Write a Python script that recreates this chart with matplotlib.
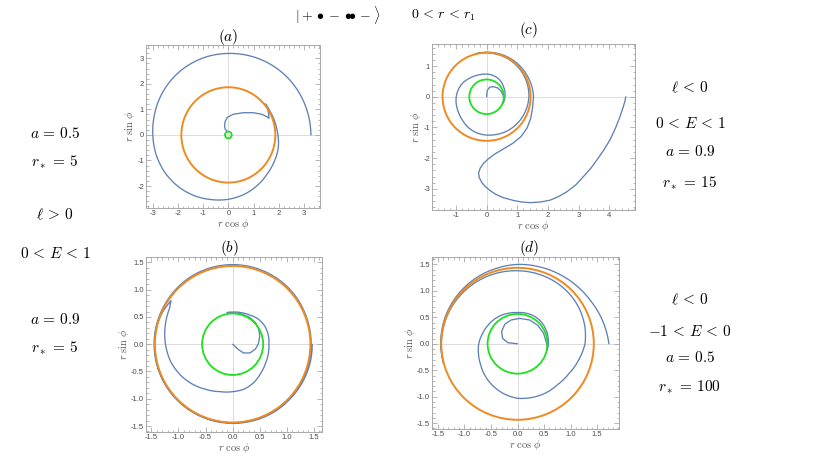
import numpy as np
import matplotlib
matplotlib.use('Agg')
import matplotlib.pyplot as plt
from matplotlib.patches import Circle, PathPatch
from matplotlib.path import Path
from matplotlib.projections.polar import PolarTransform
from matplotlib.ticker import MultipleLocator, FormatStrFormatter

plt.rcParams['mathtext.fontset'] = 'cm'
plt.rcParams['font.family'] = ['Liberation Sans', 'DejaVu Sans']

# ---------------- data ----------------
# horizon circles (outer orange, inner green)
a_circles = [1.866, 0.134]
b_circles = [1.436, 0.564]
c_circles = [1.436, 0.564]
d_circles = [1.436, 0.564]

# panel (a)
a_hook_x = [-0.04, -0.12, -0.15, -0.13, -0.04, 0.20, 0.60, 0.99, 1.32, 1.52, 1.61, 1.60, 1.55, 1.48]
a_hook_y = [0.13, 0.22, 0.33, 0.52, 0.69, 0.81, 0.87, 0.87, 0.81, 0.72, 0.65, 0.85, 1.04, 1.21]
a_loop_phi = [39, 30, 20, 10, 0, -15, -30, -45, -60, -75, -90, -105, -120, -135, -150, -165,
              -180, -195, -210, -225, -240, -255, -270, -285, -300, -315, -330, -345, -360]
a_loop_r = [1.91, 1.90, 1.91, 1.93, 1.97, 2.05, 2.10, 2.17, 2.29, 2.41, 2.52, 2.62, 2.74, 2.84, 2.92, 2.97,
            3.00, 3.04, 3.09, 3.13, 3.16, 3.18, 3.19, 3.21, 3.23, 3.25, 3.26, 3.27, 3.28]

# panel (b)
b_hook_x = [0.0, 0.11, 0.20, 0.32, 0.42, 0.48, 0.50, 0.48, 0.42, 0.30, 0.15, 0.0, -0.10]
b_hook_y = [0.0, -0.10, -0.16, -0.16, -0.09, 0.02, 0.15, 0.28, 0.40, 0.50, 0.56, 0.58, 0.58]
b_loop_phi = [100, 90, 75, 60, 45, 30, 15, 0, -15, -30, -45, -60, -75, -90, -105, -120, -135, -150,
              -165, -180, -195, -210, -215, -205, -194,
              -180, -165, -150, -135, -120, -105, -90, -75, -60, -45, -30, -15, 0,
              15, 30, 45, 60, 75, 90, 105, 120, 135, 150, 165, 180, 195, 210, 225, 240, 255, 270,
              285, 300, 315, 330, 345, 360]
b_loop_r = [0.59, 0.59, 0.60, 0.62, 0.66, 0.68, 0.68, 0.67, 0.68, 0.70, 0.74, 0.80, 0.85, 0.87, 0.90, 0.96, 1.04, 1.12,
            1.19, 1.24, 1.29, 1.34, 1.39, 1.42, 1.44,
            1.44, 1.44, 1.44, 1.44, 1.44, 1.44, 1.44, 1.44, 1.44, 1.44, 1.445, 1.445, 1.45,
            1.45, 1.455, 1.46, 1.46, 1.46, 1.46, 1.46, 1.46, 1.455, 1.45, 1.45, 1.45, 1.45, 1.45, 1.45, 1.45, 1.45, 1.45,
            1.455, 1.46, 1.46, 1.465, 1.47, 1.47]

# panel (c)
c_hook_x = [0.0, 0.02, 0.10, 0.22, 0.36, 0.47, 0.54, 0.56, 0.545]
c_hook_y = [0.0, 0.20, 0.31, 0.33, 0.29, 0.19, 0.05, -0.10, -0.20]
c_loop_phi = [-20, 0, 15, 30, 45, 60, 75, 90, 105, 120, 135, 150, 165, 180, 195, 210, 225, 240, 255, 270,
              285, 300, 315, 330, 345, 360, 375, 390, 405, 420, 435, 450, 465,
              450, 435, 420, 405, 390, 375, 360]
c_loop_r = [0.58, 0.60, 0.62, 0.64, 0.68, 0.71, 0.73, 0.74, 0.75, 0.78, 0.83, 0.90, 0.95, 0.99, 1.02, 1.05, 1.10, 1.17, 1.22, 1.25,
            1.27, 1.30, 1.32, 1.34, 1.36, 1.38, 1.39, 1.40, 1.41, 1.42, 1.43, 1.44, 1.445,
            1.45, 1.46, 1.47, 1.48, 1.49, 1.51, 1.53]
c_tail_x = [1.53, 1.50, 1.44, 1.32, 1.12, 0.85, 0.55, 0.28, 0.06, -0.10, -0.21, -0.26, -0.24, -0.16, -0.04, 0.12, 0.28,
            0.55, 0.88, 1.15, 1.42, 1.75, 2.07, 2.35, 2.61, 2.90, 3.15, 3.40, 3.59, 3.82, 4.02, 4.20, 4.35, 4.45,
            4.51, 4.54]
c_tail_y = [0.0, -0.35, -0.70, -1.02, -1.30, -1.52, -1.70, -1.86, -2.02, -2.17, -2.33, -2.48, -2.63, -2.79, -2.93, -3.06,
            -3.17, -3.29, -3.38, -3.43, -3.45, -3.43, -3.37, -3.25, -3.10, -2.88, -2.61, -2.33, -2.07, -1.74, -1.41,
            -1.03, -0.65, -0.35, -0.15, 0.0]

# panel (d)
d_hook_x = [0.0, -0.18, -0.28, -0.30, -0.24, -0.12, 0.04, 0.23, 0.38, 0.49, 0.55, 0.56]
d_hook_y = [0.0, 0.02, 0.10, 0.23, 0.37, 0.45, 0.48, 0.45, 0.35, 0.20, 0.0, -0.12]
d_loop_phi = [-12, 0, 15, 30, 45, 60, 75, 90, 105, 120, 135, 150, 165, 180, 195, 210, 225, 240, 255, 270,
              285, 300, 315, 330, 345, 360, 375, 390, 405, 420, 435, 450, 465, 480, 495, 510, 525, 540, 555,
              540, 525, 510, 495, 480, 465, 450, 435, 420, 405, 390, 375, 360]
d_loop_r = [0.57, 0.58, 0.59, 0.60, 0.61, 0.61, 0.60, 0.59, 0.60, 0.62, 0.64, 0.66, 0.69, 0.73, 0.76, 0.80, 0.86, 0.92,
            0.98, 1.03, 1.05, 1.07, 1.08, 1.12, 1.19, 1.27, 1.31, 1.34, 1.36, 1.37, 1.375, 1.38, 1.39, 1.40, 1.41,
            1.42, 1.43, 1.435, 1.44,
            1.445, 1.45, 1.455, 1.46, 1.47, 1.48, 1.50, 1.51, 1.53, 1.56, 1.60, 1.66, 1.72]

titles = ['$(a)$', '$(b)$', '$(c)$', '$(d)$']

left_texts = [r'$a\,=\,0.5$', r'$r_*\,=\,5$', r'$\ell\,>\,0$', r'$0\,<\,E\,<\,1$', r'$a\,=\,0.9$', r'$r_*\,=\,5$']
right_top_texts = [r'$\ell\,<\,0$', r'$0\,<\,E\,<\,1$', r'$a\,=\,0.9$', r'$r_*\,=\,15$']
right_bot_texts = [r'$\ell\,<\,0$', r'$-1\,<\,E\,<\,0$', r'$a\,=\,0.5$', r'$r_*\,=\,100$']
header_texts = [r'$|+\bullet-\bullet\!\!\!\!\bullet-\rangle$', r'$0\,<\,r\,<\,r_1$']

# ---------------- styling ----------------
BLUE = '#5E81B5'
ORANGE = '#EE8A22'
GREEN = '#1EE01E'

W, H = 822, 463
fig = plt.figure(figsize=(W / 100, H / 100), dpi=100)

try:
    POLAR = PolarTransform(apply_theta_transforms=False)
except TypeError:
    POLAR = PolarTransform()


def add_ax(l, r, t, b):
    return fig.add_axes([l / W, 1 - b / H, (r - l) / W, (b - t) / H])


def panel(ax, hook_x, hook_y, phi, r, tail_x, tail_y, circles, xlim, ylim, major, minor, fmt):
    # straight-read (x, y) parts
    ax.plot(hook_x, hook_y, color=BLUE, lw=0.95, zorder=3, solid_joinstyle='round',
            solid_capstyle='round')
    if len(tail_x):
        ax.plot(tail_x, tail_y, color=BLUE, lw=0.95, zorder=3, solid_joinstyle='round',
                solid_capstyle='round')
    # (phi, r) part, drawn through matplotlib's polar transform
    verts = np.column_stack([np.radians(phi), r])
    path = Path(verts, _interpolation_steps=24)
    ax.add_patch(PathPatch(path, fill=False, ec=BLUE, lw=0.95, zorder=3, joinstyle='round',
                           capstyle='round', transform=POLAR + ax.transData))
    ax.add_patch(Circle((0, 0), circles[0], fill=False, ec=ORANGE, lw=1.4, zorder=4))
    ax.add_patch(Circle((0, 0), circles[1], fill=False, ec=GREEN, lw=1.3, zorder=5))
    ax.axhline(0, color='#dcdcdc', lw=0.7, zorder=1)
    ax.axvline(0, color='#dcdcdc', lw=0.7, zorder=1)
    ax.set_xlim(xlim)
    ax.set_ylim(ylim)
    for axis in (ax.xaxis, ax.yaxis):
        axis.set_major_locator(MultipleLocator(major))
        axis.set_minor_locator(MultipleLocator(minor))
        axis.set_major_formatter(FormatStrFormatter(fmt))
    ax.tick_params(which='both', direction='in', top=True, right=True,
                   color='#9a9a9a', labelcolor='#4a4a4a', labelsize=5.5, width=0.5, pad=1.5)
    ax.tick_params(which='major', length=3.5)
    ax.tick_params(which='minor', length=1.8)
    for s in ax.spines.values():
        s.set_color('#a8a8a8')
        s.set_linewidth(0.7)
    ax.set_xlabel(r'$r\ \cos\,\phi$', fontsize=7.5, color='#555555', labelpad=0)
    ax.set_ylabel(r'$r\ \sin\,\phi$', fontsize=7.5, color='#555555', labelpad=0)


ax_a = add_ax(146, 320, 45, 208)
panel(ax_a, a_hook_x, a_hook_y, a_loop_phi, a_loop_r, [], [], a_circles,
      (-3.27, 3.64), (-2.86, 3.52), 1, 0.2, '%d')

ax_c = add_ax(432, 635, 44, 210)
panel(ax_c, c_hook_x, c_hook_y, c_loop_phi, c_loop_r, c_tail_x, c_tail_y, c_circles,
      (-1.78, 4.84), (-3.69, 1.72), 1, 0.2, '%d')

ax_b = add_ax(146, 322, 257, 432)
panel(ax_b, b_hook_x, b_hook_y, b_loop_phi, b_loop_r, [], [], b_circles,
      (-1.60, 1.65), (-1.61, 1.60), 0.5, 0.1, '%.1f')

ax_d = add_ax(432, 619, 257, 429)
panel(ax_d, d_hook_x, d_hook_y, d_loop_phi, d_loop_r, [], [], d_circles,
      (-1.61, 1.91), (-1.61, 1.64), 0.5, 0.1, '%.1f')


def ftext(x, y, s, size=11):
    fig.text(x / W, 1 - y / H, s, ha='center', va='center', fontsize=size, color='black')


ftext(228, 37, titles[0], 11)
ftext(229, 248, titles[1], 11)
ftext(529, 30, titles[2], 11)
ftext(529, 248, titles[3], 11)

ftext(338, 15, header_texts[0], 10)
ftext(444, 15, header_texts[1], 10)

for (y, s) in zip([133, 162, 215, 253, 320, 348], left_texts):
    ftext(55, y, s, 11)
for (y, s) in zip([88, 123, 151, 183], right_top_texts):
    ftext(690, y, s, 11)
for (y, s) in zip([300, 332, 358, 387], right_bot_texts):
    ftext(690, y, s, 11)

fig.savefig('out.png', dpi=100, facecolor='white')
